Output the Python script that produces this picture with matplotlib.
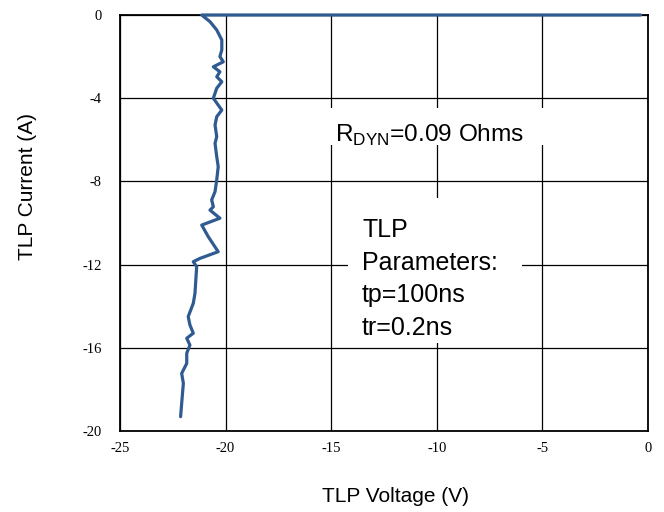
import matplotlib
matplotlib.use("Agg")
import matplotlib.pyplot as plt
from matplotlib.patches import Rectangle

# Data (TLP voltage in V, TLP current in A)
voltage = [-0.35, -21.13, -20.74, -20.42, -20.18, -20.18, -20.27, -20.11, -20.58, -20.27,
           -20.42, -20.18, -20.42, -20.58, -20.35, -20.18, -20.42, -20.50, -20.42, -20.50,
           -20.42, -20.35, -20.42, -20.50, -20.66, -20.58, -20.74, -20.27, -21.13, -20.82,
           -20.35, -21.21, -21.53, -21.37, -21.45, -21.53, -21.77, -21.69, -21.53, -21.84,
           -21.69, -21.84, -21.84, -22.08, -22.00, -22.08, -22.13]
current = [0.0, 0.0, -0.32, -0.72, -1.20, -1.68, -2.00, -2.25, -2.49, -2.73,
           -2.97, -3.21, -3.52, -4.00, -4.33, -4.57, -4.89, -5.29, -5.85, -6.17,
           -6.81, -7.29, -7.93, -8.49, -8.89, -9.22, -9.38, -9.77, -10.10, -10.66,
           -11.38, -11.70, -11.86, -12.10, -13.38, -13.86, -14.50, -14.90, -15.30, -15.54,
           -15.87, -16.26, -16.75, -17.23, -17.71, -18.67, -19.31]

x_ticks = [-25, -20, -15, -10, -5, 0]
y_ticks = [0, -4, -8, -12, -16, -20]
rdyn_label = r"R$_{\mathregular{DYN}}$=0.09 Ohms"
tlp_lines = ["TLP", "Parameters:", "tp=100ns", "tr=0.2ns"]

fig = plt.figure(figsize=(6.64, 5.12), dpi=100)
ax = fig.add_axes([120/664, 1-431/512, (648-120)/664, (431-15)/512])

ax.set_xlim(-25, 0)
ax.set_ylim(-20, 0)
ax.set_xticks(x_ticks)
ax.set_yticks(y_ticks)
ax.set_xticklabels([str(v) for v in x_ticks], family="Liberation Serif", fontsize=10.5)
ax.set_yticklabels([str(v) for v in y_ticks], family="Liberation Serif", fontsize=10.5)
ax.tick_params(axis="both", length=0)
ax.tick_params(axis="x", pad=8)
ax.tick_params(axis="y", pad=13)
ax.grid(True, color="black", linewidth=0.9)
ax.set_axisbelow(True)
for s in ax.spines.values():
    s.set_linewidth(1.3)
    s.set_color("black")

# white boxes behind the annotations (given in figure pixels, converted to axes fraction)
def box_px(x0, x1, y0, y1):
    ax_l, ax_r, ax_t, ax_b = 120, 648, 15, 431
    fx0 = (x0 - ax_l) / (ax_r - ax_l)
    fx1 = (x1 - ax_l) / (ax_r - ax_l)
    fy0 = (ax_b - y1) / (ax_b - ax_t)
    fy1 = (ax_b - y0) / (ax_b - ax_t)
    ax.add_patch(Rectangle((fx0, fy0), fx1 - fx0, fy1 - fy0, transform=ax.transAxes,
                           facecolor="white", edgecolor="none", zorder=1.5))

box_px(326, 550, 108, 145)
box_px(348, 522, 198, 343)

ax.plot(voltage, current, color="#2f5b91", linewidth=2.3, zorder=5,
        solid_joinstyle="round", solid_capstyle="round", clip_on=False)

ax.text(-14.82, -6.11, rdyn_label, family="Liberation Sans",
        fontsize=17.6, va="baseline", ha="left", zorder=2)

tlp_baselines = [-10.67, -12.26, -13.8, -15.38]
for line, yb in zip(tlp_lines, tlp_baselines):
    ax.text(-13.54, yb, line, family="Liberation Sans",
            fontsize=18, va="baseline", ha="left", zorder=2)

fig.text(395/664, 1-497/512, "TLP Voltage (V)", family="Liberation Sans",
         fontsize=15, ha="center", va="center")
fig.text(28/664, 1-187/512, "TLP Current (A)", family="Liberation Sans",
         fontsize=15, ha="center", va="center", rotation=90)

fig.savefig("out.png", dpi=100)
